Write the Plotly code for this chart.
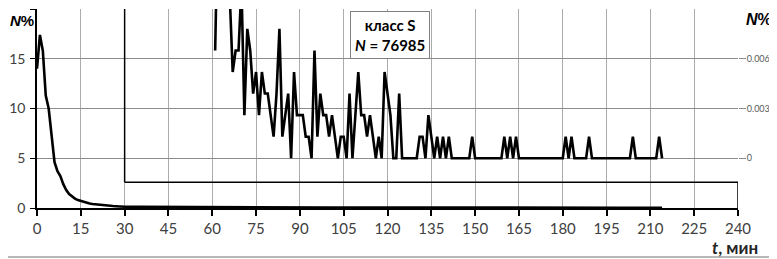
import plotly.graph_objects as go

# Main curve: N% vs t (minutes)
main_t = [0, 1, 2, 3, 4, 5, 6, 7, 8, 9, 10, 11, 12, 13, 14, 15, 16, 17, 18, 19, 20,
          21, 22, 23, 24, 25, 26, 27, 28, 29, 30, 35, 40, 45, 50, 55, 60, 65, 70, 75,
          80, 85, 90, 100, 110, 120, 130, 140, 150, 160, 170, 180, 190, 200, 210, 214]
main_n = [14.0, 17.4, 15.8, 11.3, 10.0, 7.0, 4.6, 3.7, 3.2, 2.4, 1.8, 1.4, 1.15, 0.95, 0.8,
          0.7, 0.6, 0.52, 0.46, 0.41, 0.37, 0.33, 0.3, 0.27, 0.24, 0.22, 0.2, 0.18, 0.16,
          0.15, 0.13, 0.11, 0.1, 0.1, 0.09, 0.09, 0.08, 0.08, 0.07, 0.07, 0.06, 0.06, 0.05,
          0.05, 0.05, 0.04, 0.04, 0.04, 0.04, 0.03, 0.03, 0.03, 0.03, 0.03, 0.03, 0.03]

# Inset curve (right axis): N% vs t, 61..214 min
inset_t = list(range(61, 215))
inset_n = [
    0.0065, 0.0156, 0.0130, 0.0182, 0.0143, 0.0091, 0.0052, 0.0065, 0.0065, 0.0104,
    0.0026, 0.0078, 0.0065, 0.0039, 0.0052, 0.0026, 0.0052, 0.0039, 0.0039, 0.0026,
    0.0013, 0.0039, 0.0078, 0.0013, 0.0026, 0.0039, 0, 0.0052, 0.0026, 0.0026,
    0.0026, 0.0013, 0.0013, 0, 0.0065, 0.0013, 0.0039, 0.0026, 0.0026, 0.0013,
    0.0026, 0.0013, 0, 0.0013, 0.0013, 0, 0.0039, 0, 0.0026, 0.0052,
    0.0026, 0.0026, 0.0013, 0.0026, 0.0013, 0, 0.0013, 0, 0.0052, 0.0039,
    0.0026, 0, 0, 0.0039, 0, 0, 0, 0, 0, 0,
    0.0013, 0.0013, 0, 0.0026, 0.0013, 0, 0.0013, 0, 0.0013, 0,
    0.0013, 0, 0, 0, 0, 0, 0, 0, 0.0013, 0,
    0, 0, 0, 0, 0, 0, 0, 0, 0, 0.0013,
    0, 0.0013, 0, 0.0013, 0, 0, 0, 0, 0, 0,
    0, 0, 0, 0, 0, 0, 0, 0, 0, 0,
    0.0013, 0, 0.0013, 0, 0, 0, 0, 0, 0.0013, 0,
    0, 0, 0, 0, 0, 0, 0, 0, 0, 0,
    0, 0, 0, 0.0013, 0, 0, 0, 0, 0, 0,
    0, 0, 0.0013, 0,
]

x_ticks = list(range(0, 241, 15))
y_ticks = [0, 5, 10, 15, 20]
y_ticktext = ["0", "5", "10", "15", ""]
y2_ticks = [0, 0.003, 0.006]
y2_ticktext = ["0", "0.003", "0.006"]

FONT = "Lato"

fig = go.Figure()
fig.add_trace(go.Scatter(x=main_t, y=main_n, mode="lines",
                         line=dict(color="black", width=2.6), showlegend=False))
fig.add_trace(go.Scatter(x=inset_t, y=inset_n, mode="lines", yaxis="y2",
                         line=dict(color="black", width=2.6), showlegend=False))

# page body has an 8px margin, so the figure is sized to fill the window exactly
fig.update_layout(
    width=769, height=251,
    margin=dict(l=29, r=39, t=1, b=51, autoexpand=False),
    paper_bgcolor="white", plot_bgcolor="white",
    font=dict(family=FONT, color="#404040", size=15),
    xaxis=dict(range=[0, 240], tickvals=x_ticks, showgrid=True, gridcolor="#ababab",
               gridwidth=1, showline=True, linecolor="black", linewidth=1.5,
               ticks="outside", ticklen=6, tickcolor="black", tickwidth=1.5,
               zeroline=False, automargin=False,
               tickfont=dict(size=15, color="#404040")),
    yaxis=dict(range=[0, 20], tickvals=y_ticks, ticktext=y_ticktext, showgrid=True,
               gridcolor="#8c8c8c", gridwidth=1, showline=True, linecolor="black",
               linewidth=1.5, ticks="outside", ticklen=5, tickcolor="black",
               zeroline=False, automargin=False, ticklabelstandoff=2,
               tickfont=dict(size=14, color="#404040")),
    yaxis2=dict(overlaying="y", side="right", range=[-0.003, 0.009],
                tickvals=y2_ticks, ticktext=y2_ticktext, showgrid=False,
                zeroline=False, showline=False, ticks="outside", ticklen=7,
                tickcolor="#8c8c8c", automargin=False, ticklabelstandoff=-1,
                tickfont=dict(size=9, color="#595959")),
)

# inset frame
fig.add_shape(type="line", xref="x", yref="y", x0=30, x1=240, y0=2.6, y1=2.6,
              line=dict(color="black", width=1.5))
fig.add_shape(type="line", xref="x", yref="y", x0=30, x1=30, y0=2.6, y1=20,
              line=dict(color="black", width=1.5))
fig.add_shape(type="line", xref="x", yref="y", x0=240, x1=240, y0=0, y1=2.6,
              line=dict(color="black", width=1.5))
# outer bottom border
fig.add_shape(type="line", xref="paper", yref="paper", x0=-0.06, x1=1.06,
              y0=-0.246, y1=-0.246, line=dict(color="#a0a0a0", width=1.5))

fig.add_annotation(x=0, y=1.0, xref="paper", yref="paper", xanchor="left",
                   yanchor="top", xshift=-29, yshift=-1, showarrow=False,
                   text="<b><i>N</i>%</b>", font=dict(size=15, color="black", family="Liberation Sans"))
fig.add_annotation(x=1, y=1.0, xref="paper", yref="paper", xanchor="left",
                   yanchor="top", xshift=6, yshift=0, showarrow=False,
                   text="<b><i>N</i>%</b>", font=dict(size=16, color="black", family="Liberation Sans"))
fig.add_annotation(x=1, y=0, xref="paper", yref="paper", xanchor="right",
                   yanchor="top", xshift=22, yshift=-27, showarrow=False,
                   text="<b><i>t</i>, мин</b>", font=dict(size=17, color="#262626"))
fig.add_annotation(x=120.8, y=17.4, xref="x", yref="y", showarrow=False,
                   text="<b>класс S</b><br><b><i>N</i> = 76985</b>",
                   font=dict(size=15, color="black"), bgcolor="white",
                   bordercolor="#808080", borderwidth=1, borderpad=4)

fig.write_html("out.html")
